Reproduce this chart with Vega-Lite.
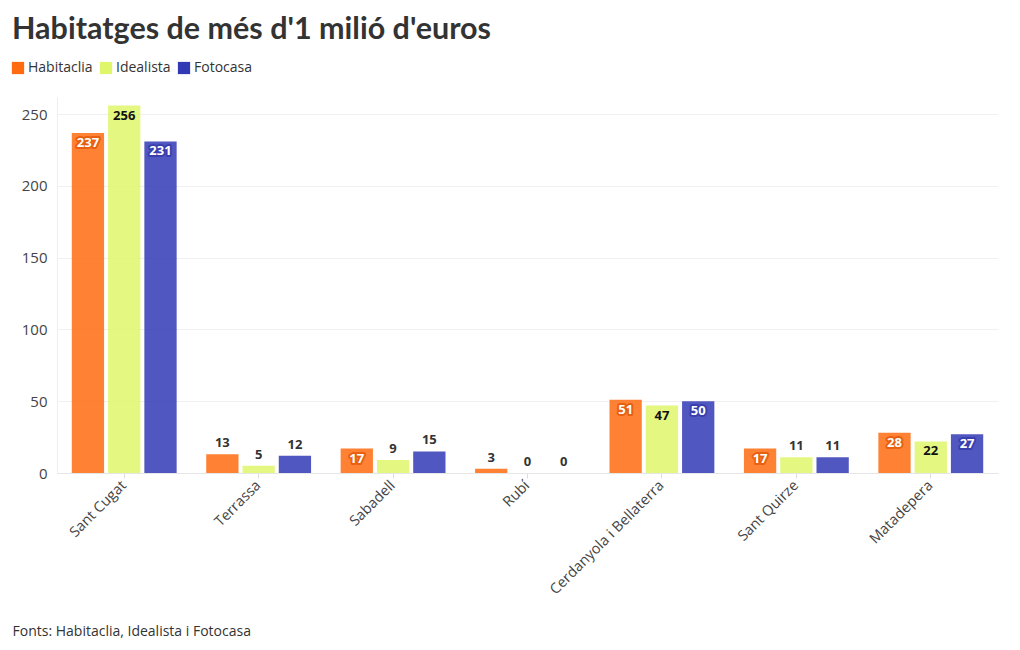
{
  "$schema": "https://vega.github.io/schema/vega-lite/v6.json",
  "width": 941,
  "height": 376,
  "autosize": {"type": "none"},
  "padding": {"left": 57, "top": 97, "right": 22, "bottom": 177},
  "background": "white",
  "config": {
    "font": "Open Sans",
    "view": {"stroke": null}
  },
  "title": {
    "text": "Habitatges de més d'1 milió d'euros",
    "anchor": "start",
    "frame": "group",
    "dx": -45,
    "offset": 16,
    "font": "Lato",
    "fontSize": 30.5,
    "fontWeight": "bold",
    "color": "#333333"
  },
  "data": {
    "values": [
      {"municipi": "Sant Cugat", "font": "Habitaclia", "n": 237},
      {"municipi": "Sant Cugat", "font": "Idealista", "n": 256},
      {"municipi": "Sant Cugat", "font": "Fotocasa", "n": 231},
      {"municipi": "Terrassa", "font": "Habitaclia", "n": 13},
      {"municipi": "Terrassa", "font": "Idealista", "n": 5},
      {"municipi": "Terrassa", "font": "Fotocasa", "n": 12},
      {"municipi": "Sabadell", "font": "Habitaclia", "n": 17},
      {"municipi": "Sabadell", "font": "Idealista", "n": 9},
      {"municipi": "Sabadell", "font": "Fotocasa", "n": 15},
      {"municipi": "Rubí", "font": "Habitaclia", "n": 3},
      {"municipi": "Rubí", "font": "Idealista", "n": 0},
      {"municipi": "Rubí", "font": "Fotocasa", "n": 0},
      {"municipi": "Cerdanyola i Bellaterra", "font": "Habitaclia", "n": 51},
      {"municipi": "Cerdanyola i Bellaterra", "font": "Idealista", "n": 47},
      {"municipi": "Cerdanyola i Bellaterra", "font": "Fotocasa", "n": 50},
      {"municipi": "Sant Quirze", "font": "Habitaclia", "n": 17},
      {"municipi": "Sant Quirze", "font": "Idealista", "n": 11},
      {"municipi": "Sant Quirze", "font": "Fotocasa", "n": 11},
      {"municipi": "Matadepera", "font": "Habitaclia", "n": 28},
      {"municipi": "Matadepera", "font": "Idealista", "n": 22},
      {"municipi": "Matadepera", "font": "Fotocasa", "n": 27}
    ]
  },
  "encoding": {
    "x": {
      "field": "municipi",
      "type": "nominal",
      "sort": null,
      "scale": {"paddingInner": 0.22, "paddingOuter": 0.11},
      "axis": {
        "title": "Fonts: Habitaclia, Idealista i Fotocasa",
        "titleAnchor": "start",
        "titleAlign": "left",
        "titleBaseline": "middle",
        "titleX": -45,
        "titleY": 158,
        "titleFontSize": 14,
        "titleFontWeight": "normal",
        "titleColor": "#333333",
        "labelAngle": -45,
        "labelAlign": "right",
        "labelBaseline": "middle",
        "labelFontSize": 14.5,
        "labelColor": "#444444",
        "labelPadding": 5,
        "tickColor": "#dddddd",
        "tickSize": 5,
        "domainColor": "#e6e6e6"
      }
    },
    "xOffset": {
      "field": "font",
      "type": "nominal",
      "sort": ["Habitaclia", "Idealista", "Fotocasa"],
      "scale": {"paddingInner": 0.11, "paddingOuter": 0}
    },
    "y": {
      "field": "n",
      "type": "quantitative",
      "scale": {"domain": [0, 262], "nice": false},
      "axis": {
        "title": null,
        "values": [0, 50, 100, 150, 200, 250],
        "labelFontSize": 15,
        "labelColor": "#444444",
        "labelPadding": 10,
        "ticks": false,
        "gridColor": "#f0f0f0",
        "domainColor": "#eeeeee"
      }
    }
  },
  "layer": [
    {
      "mark": {"type": "bar", "opacity": 0.85},
      "encoding": {
        "color": {
          "field": "font",
          "type": "nominal",
          "sort": ["Habitaclia", "Idealista", "Fotocasa"],
          "scale": {
            "domain": ["Habitaclia", "Idealista", "Fotocasa"],
            "range": ["#ff6b10", "#dff66a", "#3239b5"]
          },
          "legend": {
            "title": null,
            "orient": "none",
            "direction": "horizontal",
            "legendX": -46,
            "legendY": -36,
            "symbolType": "square",
            "symbolSize": 150,
            "symbolOpacity": 1,
            "labelFontSize": 14,
            "labelColor": "#333333",
            "labelOffset": 3,
            "columnPadding": 6
          }
        }
      }
    },
    {
      "transform": [{"filter": "datum.n >= 17 && datum.font !== 'Idealista'"}],
      "mark": {"type": "text", "baseline": "top", "dy": 4, "fontSize": 13, "fontWeight": "bold", "strokeWidth": 4, "strokeJoin": "round"},
      "encoding": {
        "text": {"field": "n", "type": "quantitative"},
        "color": {"condition": {"test": "datum.font === 'Habitaclia'", "value": "#e8600f"}, "value": "#3a3fae"},
        "stroke": {"condition": {"test": "datum.font === 'Habitaclia'", "value": "#e8600f"}, "value": "#3a3fae"}
      }
    },
    {
      "transform": [{"filter": "datum.n >= 17"}],
      "mark": {"type": "text", "baseline": "top", "dy": 4, "fontSize": 13, "fontWeight": "bold"},
      "encoding": {
        "text": {"field": "n", "type": "quantitative"},
        "color": {"condition": {"test": "datum.font === 'Idealista'", "value": "#111111"}, "value": "#ffffff"}
      }
    },
    {
      "transform": [{"filter": "datum.n < 17"}],
      "mark": {"type": "text", "baseline": "bottom", "dy": -4, "fontSize": 13, "fontWeight": "bold", "color": "#333333"},
      "encoding": {
        "text": {"field": "n", "type": "quantitative"}
      }
    }
  ]
}
